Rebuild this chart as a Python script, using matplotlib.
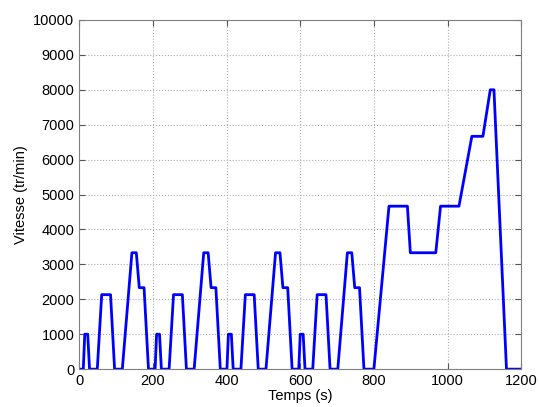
import numpy as np
import matplotlib.pyplot as plt

plt.rcParams['font.family'] = ['Liberation Sans', 'DejaVu Sans']

# one urban ECE-15 cycle (time in s, motor speed in tr/min)
ece_t = [0, 11, 15, 23, 28, 49, 61, 85, 96, 117, 143, 155, 163, 176, 188, 195]
ece_v = [0, 0, 1000, 1000, 0, 0, 2133, 2133, 0, 0, 3333, 3333, 2333, 2333, 0, 0]
ece_starts = [0, 195, 390, 585]

# extra-urban part
eudc_t = [780, 800, 841, 891, 899, 968, 981, 1031, 1066, 1096, 1116, 1126, 1160, 1200]
eudc_v = [0, 0, 4667, 4667, 3333, 3333, 4667, 4667, 6667, 6667, 8000, 8000, 0, 0]

t = []
v = []
for s in ece_starts:
    t += [s + x for x in ece_t]
    v += ece_v
t += eudc_t
v += eudc_v

fig = plt.figure(figsize=(5.39, 4.07), dpi=100)
ax = fig.add_axes([0.147, 0.093, 0.820, 0.858])
ax.plot(t, v, color='#0000ff', linewidth=2)

ax.set_xlim(0, 1200)
ax.set_ylim(0, 10000)
ax.set_xticks(range(0, 1201, 200))
ax.set_yticks(range(0, 10001, 1000))
ax.grid(True, linestyle=':', color='#b0b0b0', linewidth=0.8)
ax.tick_params(direction='in', top=True, right=True, labelsize=10.5, length=4, color='#555555')
for sp in ax.spines.values():
    sp.set_color('#808080')
ax.set_xlabel('Temps (s)', fontsize=10.5, labelpad=1)
ax.set_ylabel('Vitesse (tr/min)', fontsize=10.5, labelpad=4)

fig.savefig('out.png', dpi=100)
